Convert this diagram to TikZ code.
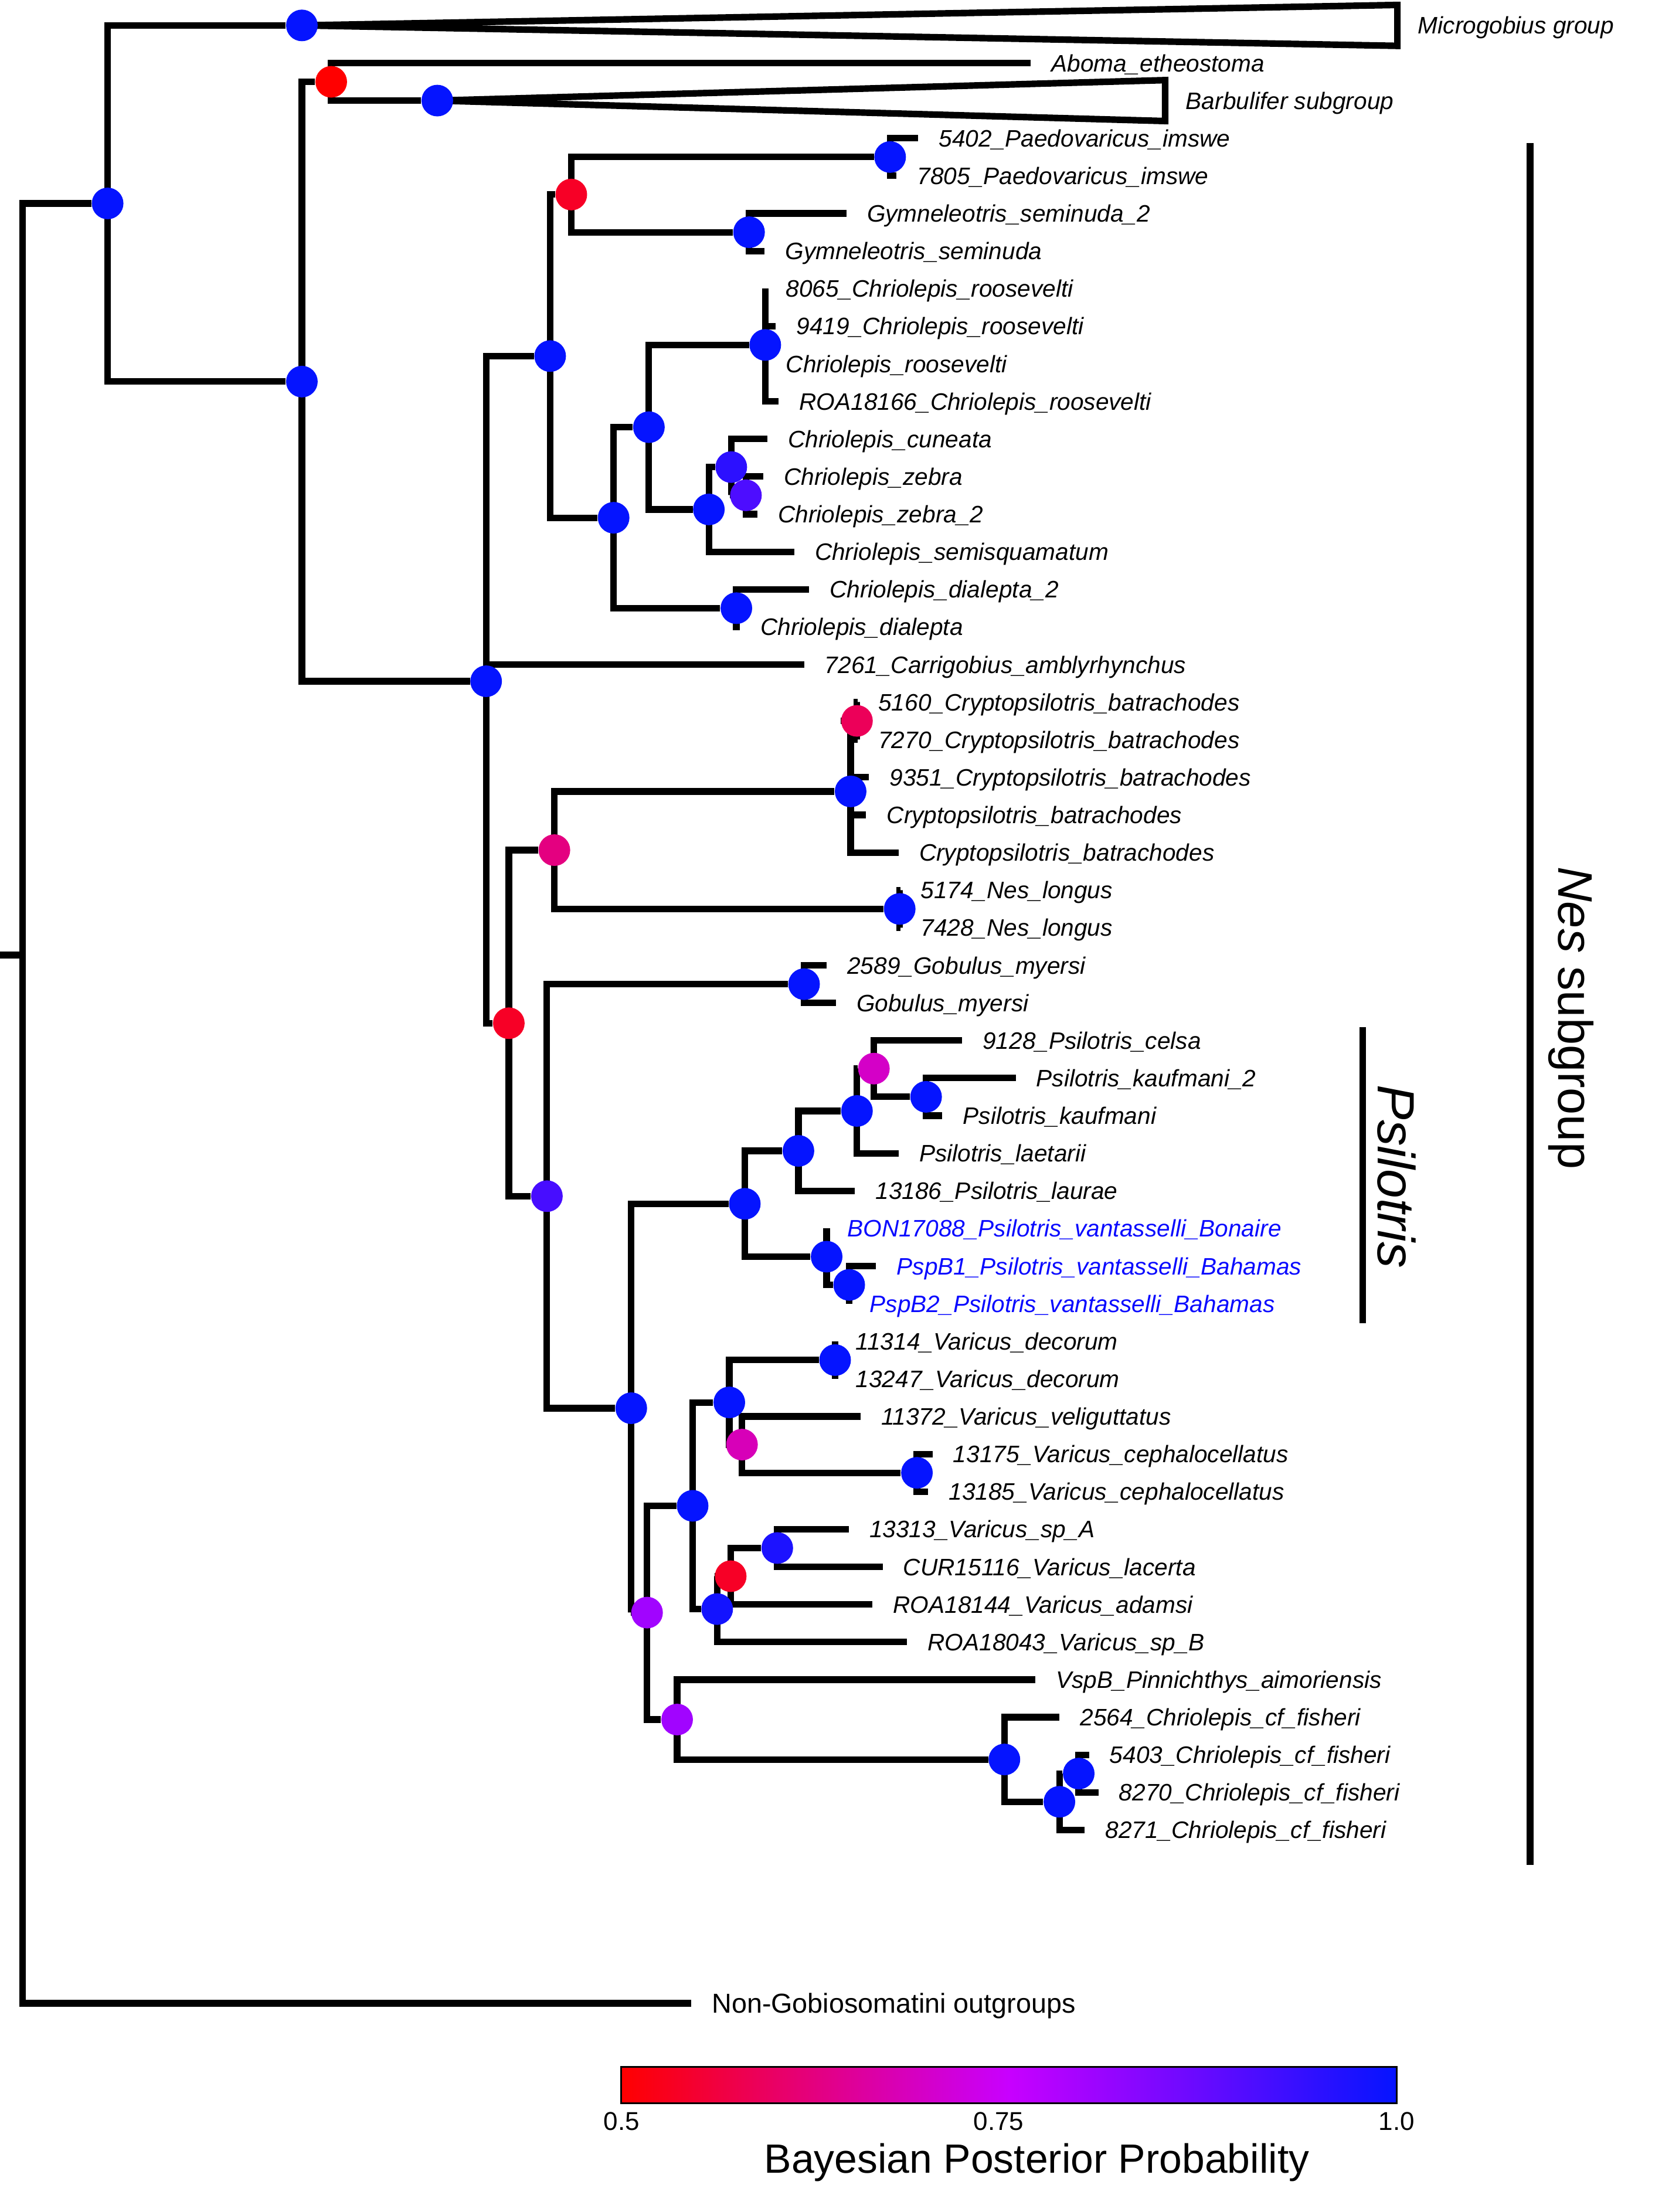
\documentclass[tikz,border=0pt]{standalone}
\usepackage{fontspec}
\setmainfont{Liberation Sans}
\usepackage{xcolor}
\definecolor{cLow}{HTML}{FF0000}
\definecolor{cMid}{HTML}{C800FF}
\definecolor{cHigh}{HTML}{0514FF}
\definecolor{cTip}{HTML}{0A0AFF}
\usetikzlibrary{calc,backgrounds}
\tikzset{
  node-pp/.style={circle,fill=#1,inner sep=0pt,minimum size=5.6mm},
  node-pp/.default=cHigh,
  branch/.style={line width=3.3pt},
  tip-label/.style={anchor=west,inner xsep=3.6mm,inner ysep=0pt,
    text height=8.6pt,text depth=0pt,font=\fontsize{12}{14}\selectfont\itshape},
  tip-blue/.style={tip-label,text=cTip},
  tip-out/.style={tip-label,text height=9.9pt,font=\fontsize{13.8}{16}\selectfont},
  clade-bar/.style={line width=3.3pt},
  scale-label/.style={anchor=base,inner sep=0pt,font=\fontsize{13}{15}\selectfont},
}
\begin{document}
\begin{tikzpicture}[x=0.025cm,y=-0.025cm]
  \useasboundingbox (0,0) rectangle (1178,1568);
  \coordinate (stem) at (0,677);
  \coordinate (root) at (16,677);
  % internal nodes, coloured by posterior probability
  \node[node-pp] (gbs) at (76.3,144.2) {};
  \node[node-pp] (micro) at (214,18) {};
  \node[node-pp] (core) at (214,270.5) {};
  \node[node-pp=cLow] (abbar) at (234.8,58) {};
  \node[node-pp] (barb) at (310,71.3) {};
  \node[node-pp] (nesg) at (344.6,482.9) {};
  \node[node-pp] (chrA) at (390,252.4) {};
  \node[node-pp=cMid!15!cLow] (paedgym) at (405,137.9) {};
  \node[node-pp] (paed) at (631,111.3) {};
  \node[node-pp] (gymn) at (531,164.6) {};
  \node[node-pp] (chrB) at (435,367) {};
  \node[node-pp] (chrC) at (460,302.8) {};
  \node[node-pp] (roos) at (542.5,244.5) {};
  \node[node-pp] (zebA) at (502.5,361.1) {};
  \node[node-pp=cHigh!80!cMid] (zebB) at (518.4,331.1) {};
  \node[node-pp=cHigh!63!cMid] (zeb) at (528.8,351.1) {};
  \node[node-pp] (dial) at (522,431.1) {};
  \node[node-pp=cMid!15!cLow] (crpsi) at (360.7,725.3) {};
  \node[node-pp=cMid!50!cLow] (crynes) at (393,602.6) {};
  \node[node-pp] (cryp) at (603,561) {};
  \node[node-pp=cMid!35!cLow] (crypB) at (607.5,511) {};
  \node[node-pp] (neslong) at (637.8,644.3) {};
  \node[node-pp=cHigh!66!cMid] (gobpsi) at (387.7,847.9) {};
  \node[node-pp] (gobu) at (570,697.6) {};
  \node[node-pp] (psivar) at (447.5,998.2) {};
  \node[node-pp] (psil) at (528,853.3) {};
  \node[node-pp] (psiA) at (566,815.8) {};
  \node[node-pp] (psiB) at (607.5,787.5) {};
  \node[node-pp=cMid!78!cLow] (psiC) at (619.5,757.5) {};
  \node[node-pp] (kauf) at (656.5,777.5) {};
  \node[node-pp] (vant) at (586,890.8) {};
  \node[node-pp] (pspb) at (602,910.8) {};
  \node[node-pp=cHigh!20!cMid] (varchr) at (458.7,1143.1) {};
  \node[node-pp] (vari) at (491,1067.4) {};
  \node[node-pp] (varA) at (517,994.1) {};
  \node[node-pp] (deco) at (592,964.1) {};
  \node[node-pp=cMid!72!cLow] (varB) at (526,1024) {};
  \node[node-pp] (ceph) at (650,1044) {};
  \node[node-pp=cMid!15!cLow] (varD) at (518,1117.3) {};
  \node[node-pp=cHigh!93!cMid] (varC) at (508.4,1140.6) {};
  \node[node-pp=cHigh!88!cMid] (lace) at (551,1097.3) {};
  \node[node-pp=cHigh!20!cMid] (pinn) at (480,1218.9) {};
  \node[node-pp] (fish) at (712,1247.2) {};
  \node[node-pp] (fishB) at (764.7,1257.2) {};
  \node[node-pp] (fishA) at (751,1277.2) {};
  % tips
  \node[tip-label] (t01) at (990.6,18) {Microgobius group};
  \node[tip-label] (t02) at (730.6,44.65) {Aboma\_etheostoma};
  \node[tip-label] (t03) at (826,71.3) {Barbulifer subgroup};
  \node[tip-label] (t04) at (651,97.95) {5402\_Paedovaricus\_imswe};
  \node[tip-label] (t05) at (635.6,124.6) {7805\_Paedovaricus\_imswe};
  \node[tip-label] (t06) at (600,151.25) {Gymneleotris\_seminuda\_2};
  \node[tip-label] (t07) at (542,177.9) {Gymneleotris\_seminuda};
  \node[tip-label] (t08) at (542.5,204.55) {8065\_Chriolepis\_roosevelti};
  \node[tip-label] (t09) at (550,231.2) {9419\_Chriolepis\_roosevelti};
  \node[tip-label] (t10) at (542.5,257.85) {Chriolepis\_roosevelti};
  \node[tip-label] (t11) at (552,284.5) {ROA18166\_Chriolepis\_roosevelti};
  \node[tip-label] (t12) at (544,311.15) {Chriolepis\_cuneata};
  \node[tip-label] (t13) at (541,337.8) {Chriolepis\_zebra};
  \node[tip-label] (t14) at (537,364.45) {Chriolepis\_zebra\_2};
  \node[tip-label] (t15) at (563,391.1) {Chriolepis\_semisquamatum};
  \node[tip-label] (t16) at (573.5,417.75) {Chriolepis\_dialepta\_2};
  \node[tip-label] (t17) at (524.5,444.4) {Chriolepis\_dialepta};
  \node[tip-label] (t18) at (570,471.05) {7261\_Carrigobius\_amblyrhynchus};
  \node[tip-label] (t19) at (608,497.7) {5160\_Cryptopsilotris\_batrachodes};
  \node[tip-label] (t20) at (608,524.35) {7270\_Cryptopsilotris\_batrachodes};
  \node[tip-label] (t21) at (616,551) {9351\_Cryptopsilotris\_batrachodes};
  \node[tip-label] (t22) at (614,577.65) {Cryptopsilotris\_batrachodes};
  \node[tip-label] (t23) at (637,604.3) {Cryptopsilotris\_batrachodes};
  \node[tip-label] (t24) at (638,630.95) {5174\_Nes\_longus};
  \node[tip-label] (t25) at (638,657.6) {7428\_Nes\_longus};
  \node[tip-label] (t26) at (586,684.25) {2589\_Gobulus\_myersi};
  \node[tip-label] (t27) at (592.5,710.9) {Gobulus\_myersi};
  \node[tip-label] (t28) at (682,737.55) {9128\_Psilotris\_celsa};
  \node[tip-label] (t29) at (720,764.2) {Psilotris\_kaufmani\_2};
  \node[tip-label] (t30) at (668,790.85) {Psilotris\_kaufmani};
  \node[tip-label] (t31) at (637,817.5) {Psilotris\_laetarii};
  \node[tip-label] (t32) at (606,844.15) {13186\_Psilotris\_laurae};
  \node[tip-blue] (t33) at (586,870.8) {BON17088\_Psilotris\_vantasselli\_Bonaire};
  \node[tip-blue] (t34) at (621,897.45) {PspB1\_Psilotris\_vantasselli\_Bahamas};
  \node[tip-blue] (t35) at (602,924.1) {PspB2\_Psilotris\_vantasselli\_Bahamas};
  \node[tip-label] (t36) at (592,950.75) {11314\_Varicus\_decorum};
  \node[tip-label] (t37) at (592,977.4) {13247\_Varicus\_decorum};
  \node[tip-label] (t38) at (610,1004.05) {11372\_Varicus\_veliguttatus};
  \node[tip-label] (t39) at (661,1030.7) {13175\_Varicus\_cephalocellatus};
  \node[tip-label] (t40) at (658,1057.35) {13185\_Varicus\_cephalocellatus};
  \node[tip-label] (t41) at (601.7,1084) {13313\_Varicus\_sp\_A};
  \node[tip-label] (t42) at (625.7,1110.65) {CUR15116\_Varicus\_lacerta};
  \node[tip-label] (t43) at (618.5,1137.3) {ROA18144\_Varicus\_adamsi};
  \node[tip-label] (t44) at (643,1163.95) {ROA18043\_Varicus\_sp\_B};
  \node[tip-label] (t45) at (734,1190.6) {VspB\_Pinnichthys\_aimoriensis};
  \node[tip-label] (t46) at (751,1217.25) {2564\_Chriolepis\_cf\_fisheri};
  \node[tip-label] (t47) at (772,1243.9) {5403\_Chriolepis\_cf\_fisheri};
  \node[tip-label] (t48) at (778.6,1270.55) {8270\_Chriolepis\_cf\_fisheri};
  \node[tip-label] (t49) at (769,1297.2) {8271\_Chriolepis\_cf\_fisheri};
  \node[tip-out] (tout) at (490,1420) {Non-Gobiosomatini outgroups};
  % branches
  \begin{scope}[on background layer]
    \draw[branch] (stem) -- (root);
    \foreach \p/\c in {root/gbs, root/tout, gbs/micro, gbs/core, core/abbar,
        core/nesg, abbar/t02, abbar/barb, nesg/chrA, nesg/t18, nesg/crpsi,
        chrA/paedgym, chrA/chrB, paedgym/paed, paedgym/gymn, paed/t04, paed/t05,
        gymn/t06, gymn/t07, chrB/chrC, chrB/dial, chrC/roos, chrC/zebA,
        roos/t08, roos/t09, roos/t10, roos/t11, zebA/zebB, zebA/t15, zebB/t12,
        zebB/zeb, zeb/t13, zeb/t14, dial/t16, dial/t17, crpsi/crynes,
        crpsi/gobpsi, crynes/cryp, crynes/neslong, cryp/crypB, cryp/t21,
        cryp/t22, cryp/t23, crypB/t19, crypB/t20, neslong/t24, neslong/t25,
        gobpsi/gobu, gobpsi/psivar, gobu/t26, gobu/t27, psivar/psil,
        psivar/varchr, psil/psiA, psil/vant, psiA/psiB, psiA/t32, psiB/psiC,
        psiB/t31, psiC/t28, psiC/kauf, kauf/t29, kauf/t30, vant/t33, vant/pspb,
        pspb/t34, pspb/t35, varchr/vari, varchr/pinn, vari/varA, vari/varC,
        varA/deco, varA/varB, deco/t36, deco/t37, varB/t38, varB/ceph,
        ceph/t39, ceph/t40, varC/varD, varC/t44, varD/lace, varD/t43,
        lace/t41, lace/t42, pinn/t45, pinn/fish, fish/t46, fish/fishA,
        fishA/fishB, fishA/t49, fishB/t47, fishB/t48}
      \draw[branch] (\p.center) |- (\c);
    % collapsed clades
    \draw[branch] (micro.center) -- ($(t01.west)+(0,-14.5)$)
      -- ($(t01.west)+(0,14.5)$) -- cycle;
    \draw[branch] (barb.center) -- ($(t03.west)+(0,-14.5)$)
      -- ($(t03.west)+(0,14.5)$) -- cycle;
  \end{scope}
  % clade bars
  \coordinate (nesTop) at (1084.7,101.5);
  \coordinate (nesBot) at (1084.7,1322);
  \draw[clade-bar] (nesTop) -- (nesBot);
  \node[rotate=-90,anchor=base,inner sep=0pt,font=\fontsize{24.5}{28}\selectfont]
    (neslbl) at (1105,721.5) {\textit{Nes} subgroup};
  \coordinate (psiTop) at (966,728);
  \coordinate (psiBot) at (966,938);
  \draw[clade-bar] (psiTop) -- (psiBot);
  \node[rotate=-90,anchor=base,inner sep=0pt,font=\fontsize{26.4}{30}\selectfont\itshape]
    (psilbl) at (977,834) {Psilotris};
  % colour scale
  \node[draw,line width=0.9pt,left color=cLow,right color=cHigh,middle color=cMid,
    minimum width=13.74cm,minimum height=0.65cm,inner sep=0pt] (ppbar) at (715.25,1478) {};
  \node[scale-label] (pp05) at (440.6,1510) {0.5};
  \node[scale-label] (pp075) at (708,1510) {0.75};
  \node[scale-label] (pp10) at (990,1510) {1.0};
  \node[anchor=base,inner sep=0pt,font=\fontsize{20.6}{24}\selectfont]
    (pptitle) at (735,1540.4) {Bayesian Posterior Probability};
\end{tikzpicture}
\end{document}
